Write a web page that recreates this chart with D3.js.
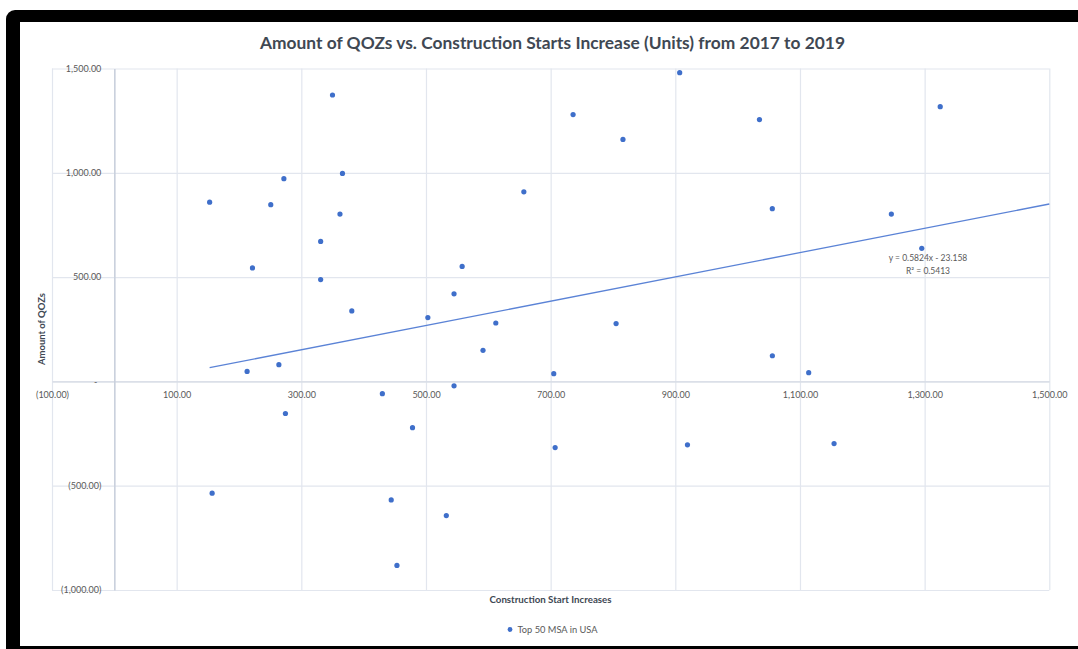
<!DOCTYPE html>
<html>
<head>
<meta charset="utf-8">
<script src="https://cdn.jsdelivr.net/npm/d3@7"></script>
<style>
  html, body { margin: 0; padding: 0; background: #fff; }
  svg { display: block; }
  text { font-family: Lato, "Open Sans", sans-serif; }
</style>
</head>
<body>
<svg id="chart" width="1078" height="649"></svg>
<script>
// ---- data ----
const seriesName = "Top 50 MSA in USA";
const constructionStartIncreases = [
  152.9, 251, 272, 366, 362, 331, 221.6, 331, 381, 657,
  558, 545, 503, 612, 591.5, 213, 264, 705, 545, 430,
  1035, 1325, 1055.6, 1246.6, 1295.4, 907, 736, 816, 350, 1055.7,
  1114, 274.5, 478.4, 707.2, 919.5, 1154.7, 156.9, 444.2, 532.6, 453.4,
  805
];
const amountOfQOZs = [
  859, 847, 972, 997, 802, 671, 544, 488, 338, 909,
  551, 420, 306, 280, 149, 48, 80, 37, -21, -59,
  1255, 1317, 828, 802, 638, 1480, 1279, 1160, 1373, 123,
  42, -154, -222, -317, -304, -298, -536, -568, -643, -882,
  277
];
const xTickValues = [-100, 100, 300, 500, 700, 900, 1100, 1300, 1500];
const yTickValues = [-1000, -500, 0, 500, 1000, 1500];
const trendSlope = [0.5824];
const trendIntercept = [-23.158];
const trendRange = [152.9, 1500];
const trendLabels = ["y = 0.5824x - 23.158", "R² = 0.5413"];
const titleText = "Amount of QOZs vs. Construction Starts Increase (Units) from 2017 to 2019";
const xTitle = "Construction Start Increases";
const yTitle = "Amount of QOZs";

// ---- drawing ----
const svg = d3.select("#chart");
const blue = "#3f6fca";
const gridColor = "#e2e6ee";
const textColor = "#595959";

// black frame
svg.append("rect").attr("x", 6).attr("y", 10).attr("width", 1100).attr("height", 660)
  .attr("rx", 9).attr("fill", "#000");
svg.append("rect").attr("x", 20).attr("y", 22).attr("width", 1080).attr("height", 624)
  .attr("fill", "#fff");

const x = d3.scaleLinear().domain([-100, 1500]).range([52, 1049.3]);
const y = d3.scaleLinear().domain([-1000, 1500]).range([590, 68.5]);

const fmt = v => {
  if (v === 0) return "-";
  const s = d3.format(",.2f")(Math.abs(v));
  return v < 0 ? "(" + s + ")" : s;
};

// gridlines
const gx = svg.append("g").attr("transform", `translate(0,${y(-1000)})`)
  .call(d3.axisBottom(x).tickValues(xTickValues).tickSize(-(y(-1000) - y(1500))).tickFormat(""));
gx.select(".domain").remove();
gx.selectAll("line").attr("stroke", gridColor).attr("stroke-width", 1.2);

const gy = svg.append("g").attr("transform", `translate(${x(-100)},0)`)
  .call(d3.axisLeft(y).tickValues(yTickValues).tickSize(-(x(1500) - x(-100))).tickFormat(""));
gy.select(".domain").remove();
gy.selectAll("line").attr("stroke", gridColor).attr("stroke-width", 1.2);

// x axis (horizontal, at y=0)
const xAxis = svg.append("g").attr("transform", `translate(0,${y(0)})`)
  .call(d3.axisBottom(x).tickValues(xTickValues).tickSize(0).tickPadding(10).tickFormat(fmt));
xAxis.select(".domain").attr("stroke", "#d6dbe4").attr("stroke-width", 1.2);
xAxis.selectAll("text").attr("fill", textColor).attr("font-size", 9)
  .style("font-family", "Lato, sans-serif");

// y axis (vertical, at x=0)
const yAxis = svg.append("g").attr("transform", `translate(${x(0)},0)`)
  .call(d3.axisLeft(y).tickValues(yTickValues).tickSize(0).tickPadding(13).tickFormat(fmt));
yAxis.select(".domain").attr("stroke", "#c9d0dc").attr("stroke-width", 1.6);
yAxis.selectAll("text").attr("fill", textColor).attr("font-size", 9)
  .style("font-family", "Lato, sans-serif")
  .attr("dx", d => d === 0 ? -4 : 0);

// trendline
const trendData = trendRange.map(v => ({ x: v, y: trendSlope[0] * v + trendIntercept[0] }));
svg.append("path").datum(trendData)
  .attr("d", d3.line().x(d => x(d.x)).y(d => y(d.y)))
  .attr("fill", "none").attr("stroke", "#5b83d6").attr("stroke-width", 1.3);

// points
const points = constructionStartIncreases.map((v, i) => ({ x: v, y: amountOfQOZs[i] }));
svg.append("g").selectAll("circle").data(points).join("circle")
  .attr("cx", d => x(d.x)).attr("cy", d => y(d.y)).attr("r", 2.6)
  .attr("fill", blue);

// trendline label
svg.append("text").attr("x", 928).attr("y", 261).attr("text-anchor", "middle")
  .attr("font-size", 8.5).attr("fill", textColor).text(trendLabels[0]);
svg.append("text").attr("x", 928).attr("y", 274).attr("text-anchor", "middle")
  .attr("font-size", 8.5).attr("fill", textColor).text(trendLabels[1]);

// title
svg.append("text").attr("x", 552.5).attr("y", 49).attr("text-anchor", "middle")
  .attr("font-size", 17).attr("font-weight", "bold").attr("fill", "#404853")
  .attr("textLength", 585).attr("lengthAdjust", "spacingAndGlyphs")
  .text(titleText);

// axis titles
svg.append("text").attr("x", 550.5).attr("y", 603).attr("text-anchor", "middle")
  .attr("font-size", 9.5).attr("font-weight", "bold").attr("fill", "#404853")
  .attr("textLength", 122).attr("lengthAdjust", "spacingAndGlyphs")
  .text(xTitle);
svg.append("text").attr("transform", "translate(45,329) rotate(-90)").attr("text-anchor", "middle")
  .attr("font-size", 9.5).attr("font-weight", "bold").attr("fill", "#404853")
  .attr("textLength", 72).attr("lengthAdjust", "spacingAndGlyphs")
  .text(yTitle);

// legend
svg.append("circle").attr("cx", 510).attr("cy", 629.5).attr("r", 2.4).attr("fill", blue);
svg.append("text").attr("x", 517.5).attr("y", 632.5).attr("font-size", 9).attr("fill", textColor)
  .attr("textLength", 80).attr("lengthAdjust", "spacingAndGlyphs")
  .text(seriesName);
</script>
</body>
</html>
